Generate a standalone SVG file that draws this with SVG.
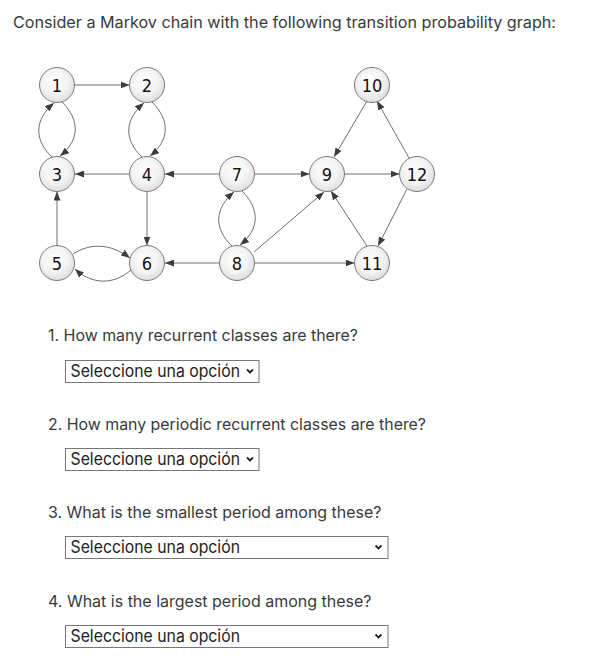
<svg xmlns="http://www.w3.org/2000/svg" width="592" height="668" viewBox="0 0 592 668">
<style>
.node circle{fill:url(#ng);stroke:#7a7a7a;stroke-width:1}
.node text{font-family:"DejaVu Sans Condensed","DejaVu Sans",sans-serif;font-size:18px;fill:#111;text-anchor:middle}
.edges path{fill:none;stroke:#6e6e6e;stroke-width:1;marker-end:url(#ah)}
.txt{font-family:Inter,"Liberation Sans",sans-serif;font-size:16px;fill:#373a3c}
.sel rect{fill:#fff;stroke:#767676;stroke-width:1}
.sel text{font-family:Inter,"Liberation Sans",sans-serif;font-size:17px;fill:#1d2125}
.sel path{fill:none;stroke:#222;stroke-width:1.8}
</style>
<defs>
<radialGradient id="ng" cx="0.45" cy="0.4" r="0.6">
<stop offset="0" stop-color="#ffffff"/>
<stop offset="0.6" stop-color="#f3f3f3"/>
<stop offset="1" stop-color="#dedede"/>
</radialGradient>
<marker id="ah" markerWidth="9" markerHeight="7" refX="9" refY="3.5" orient="auto" markerUnits="userSpaceOnUse">
<path d="M0,0 L9,3.5 L0,7 z" fill="#3c3c3c"/>
</marker>
</defs>
<rect width="592" height="668" fill="#fff"/>
<text class="txt" x="13" y="28" textLength="543" lengthAdjust="spacingAndGlyphs">Consider a Markov chain with the following transition probability graph:</text>

<g class="edges" id="edges">
<path d="M75,85 L129.5,85"/>
<path d="M52,157 C34,140 34,120 54,103"/>
<path d="M62,102 C80,120 80,140 60,156"/>
<path d="M142,157 C124,140 124,120 144,103"/>
<path d="M152,102 C170,120 170,140 150,156"/>
<path d="M129.5,174 L75,174"/>
<path d="M219.5,174 L165,174"/>
<path d="M147,191.5 L147,245.5"/>
<path d="M57,245.5 L57,191.5"/>
<path d="M73,254 C90,243 110,243 130,258"/>
<path d="M131,270 C114,285 92,285 75,269"/>
<path d="M219.5,263 L165,263"/>
<path d="M232,246 C214,229 214,209 234,192"/>
<path d="M242,191 C260,209 260,229 240,245"/>
<path d="M254.5,174 L309.5,174"/>
<path d="M254,252 L324,192"/>
<path d="M254.5,263 L354.5,263"/>
<path d="M344.5,174 L399.5,174"/>
<path d="M367,101 L334,157"/>
<path d="M409,158 L377,101"/>
<path d="M407,189 L378,246"/>
<path d="M367,246 L331,191"/>
</g>

<g class="node" id="n1"><circle cx="57" cy="85" r="17.5"/><text x="57" y="91.5">1</text></g>
<g class="node" id="n2"><circle cx="147" cy="85" r="17.5"/><text x="147" y="91.5">2</text></g>
<g class="node" id="n10"><circle cx="372" cy="85" r="17.5"/><text x="372" y="91.5">10</text></g>
<g class="node" id="n3"><circle cx="57" cy="174" r="17.5"/><text x="57" y="180.5">3</text></g>
<g class="node" id="n4"><circle cx="147" cy="174" r="17.5"/><text x="147" y="180.5">4</text></g>
<g class="node" id="n7"><circle cx="237" cy="174" r="17.5"/><text x="237" y="180.5">7</text></g>
<g class="node" id="n9"><circle cx="327" cy="174" r="17.5"/><text x="327" y="180.5">9</text></g>
<g class="node" id="n12"><circle cx="417" cy="174" r="17.5"/><text x="417" y="180.5">12</text></g>
<g class="node" id="n5"><circle cx="57" cy="263" r="17.5"/><text x="57" y="269.5">5</text></g>
<g class="node" id="n6"><circle cx="147" cy="263" r="17.5"/><text x="147" y="269.5">6</text></g>
<g class="node" id="n8"><circle cx="237" cy="263" r="17.5"/><text x="237" y="269.5">8</text></g>
<g class="node" id="n11"><circle cx="372" cy="263" r="17.5"/><text x="372" y="269.5">11</text></g>

<text class="txt" x="48" y="341" textLength="310" lengthAdjust="spacingAndGlyphs">1. How many recurrent classes are there?</text>
<g class="sel" id="sel1"><rect x="65.5" y="360.5" width="193.5" height="22"/><text x="70.5" y="377" textLength="169.5" lengthAdjust="spacingAndGlyphs">Seleccione una opción</text><path d="M247,369.5 L250,372.5 L253,369.5"/></g>
<text class="txt" x="48" y="430" textLength="378" lengthAdjust="spacingAndGlyphs">2. How many periodic recurrent classes are there?</text>
<g class="sel" id="sel2"><rect x="65.5" y="448.5" width="193.5" height="22"/><text x="70.5" y="465" textLength="169.5" lengthAdjust="spacingAndGlyphs">Seleccione una opción</text><path d="M247,457.5 L250,460.5 L253,457.5"/></g>
<text class="txt" x="48" y="518" textLength="333.5" lengthAdjust="spacingAndGlyphs">3. What is the smallest period among these?</text>
<g class="sel" id="sel3"><rect x="65.5" y="536.5" width="322.5" height="22"/><text x="70.5" y="553" textLength="169.5" lengthAdjust="spacingAndGlyphs">Seleccione una opción</text><path d="M375.5,545.5 L378.5,548.5 L381.5,545.5"/></g>
<text class="txt" x="48" y="607" textLength="323.5" lengthAdjust="spacingAndGlyphs">4. What is the largest period among these?</text>
<g class="sel" id="sel4"><rect x="65.5" y="625.5" width="322.5" height="22"/><text x="70.5" y="642" textLength="169.5" lengthAdjust="spacingAndGlyphs">Seleccione una opción</text><path d="M375.5,634.5 L378.5,637.5 L381.5,634.5"/></g>
</svg>
